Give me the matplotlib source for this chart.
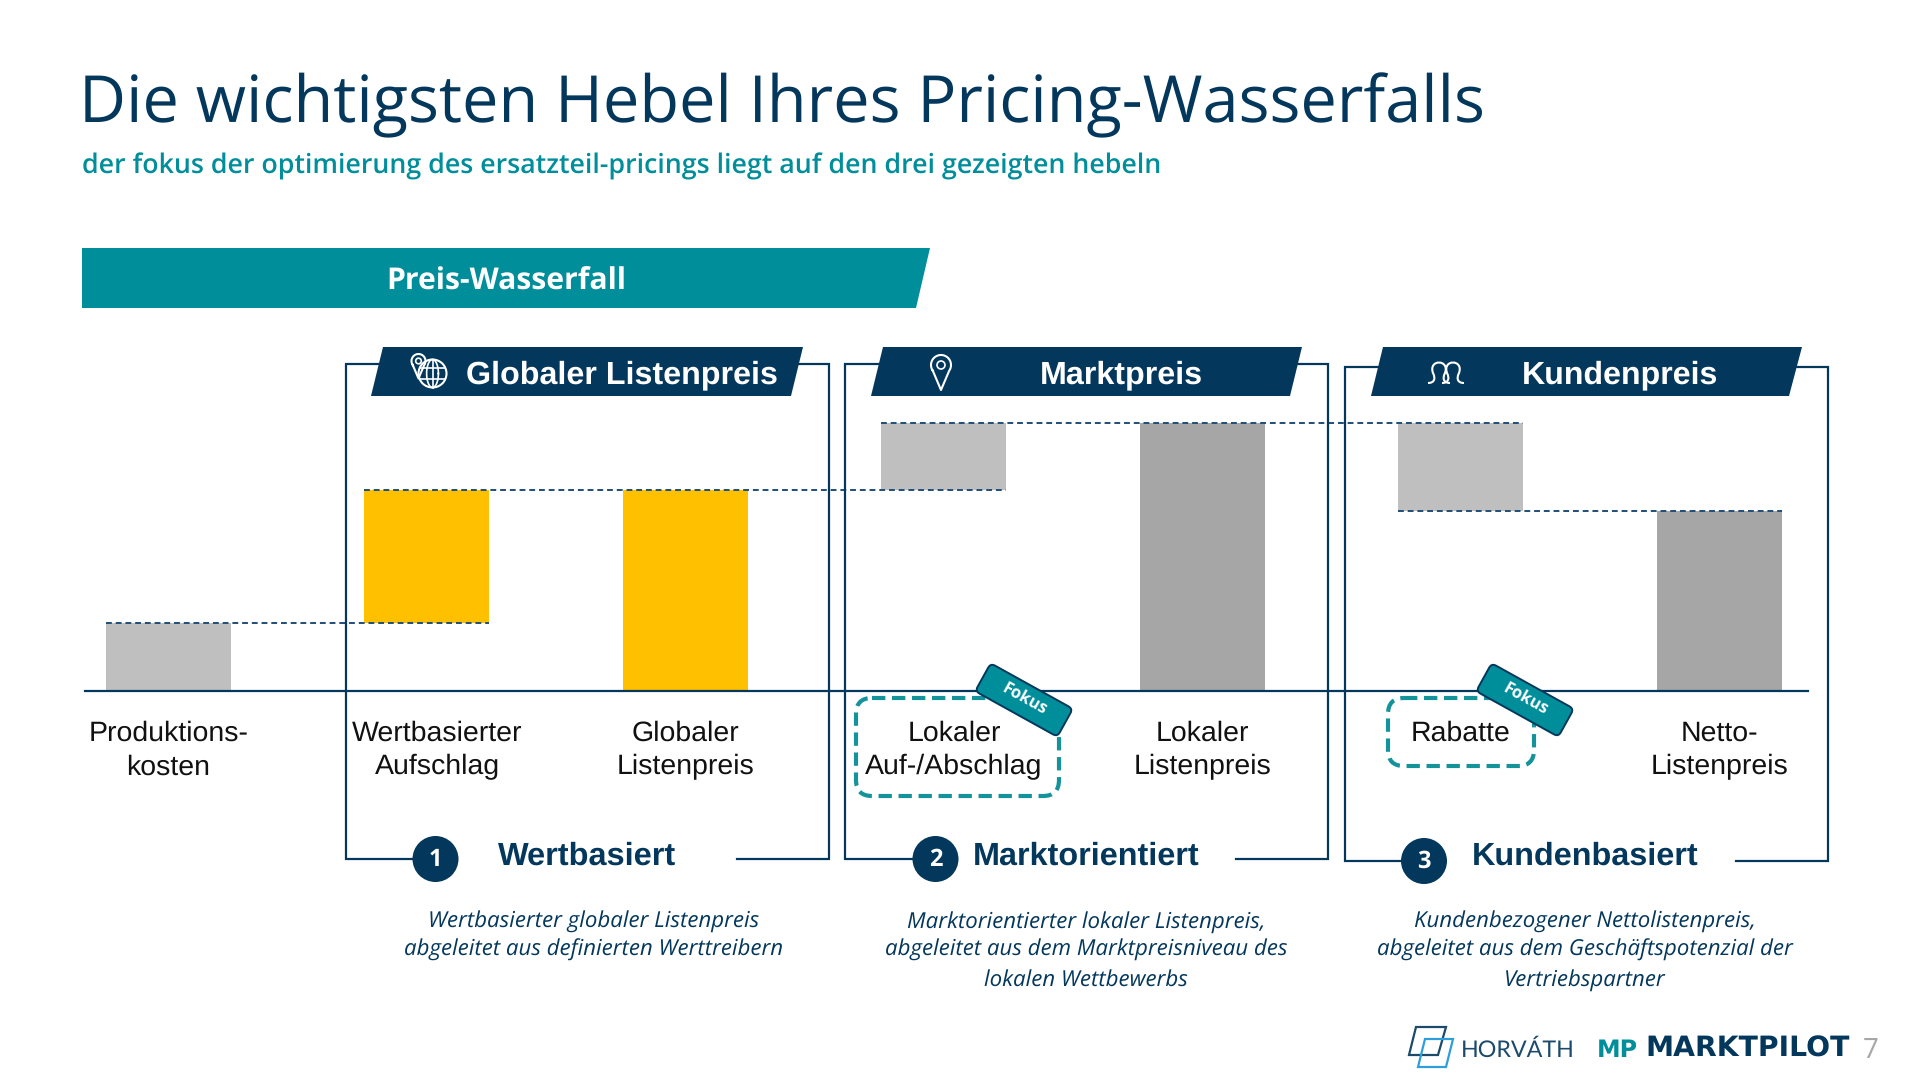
import matplotlib
matplotlib.use("Agg")
import matplotlib.pyplot as plt
from matplotlib.patches import Polygon, Circle, FancyBboxPatch, PathPatch
from matplotlib.path import Path
from matplotlib.transforms import Affine2D
import numpy as np

plt.rcParams["text.hinting"] = "no_hinting"

# ---------- data ----------
categories = ["Produktions-\nkosten", "Wertbasierter\nAufschlag", "Globaler\nListenpreis",
              "Lokaler\nAuf-/Abschlag", "Lokaler\nListenpreis", "Rabatte", "Netto-\nListenpreis"]
bar_bottoms = [0, 34, 0, 100.5, 0, 90, 0]
bar_heights = [34, 66.5, 100.5, 33.5, 134, 44, 90]
bar_colors = ["#BFBFBF", "#FFC000", "#FFC000", "#BFBFBF", "#A6A6A6", "#BFBFBF", "#A6A6A6"]
label_offsets = [0, 0.04, 0, 0.04, 0, 0, 0]
# connector: level, first bar index, last bar index
connector_levels = [34, 100.5, 134, 90]
connector_from = [0, 1, 3, 5]
connector_to = [1, 3, 5, 6]

title = "Die wichtigsten Hebel Ihres Pricing-Wasserfalls"
subtitle = "der fokus der optimierung des ersatzteil-pricings liegt auf den drei gezeigten hebeln"
banner = "Preis-Wasserfall"
ribbons = ["Globaler Listenpreis", "Marktpreis", "Kundenpreis"]
headings = ["Wertbasiert", "Marktorientiert", "Kundenbasiert"]
numbers = ["1", "2", "3"]
descriptions = [
    ["Wertbasierter globaler Listenpreis", "abgeleitet aus definierten Werttreibern"],
    ["Marktorientierter lokaler Listenpreis,", "abgeleitet aus dem Marktpreisniveau des", "lokalen Wettbewerbs"],
    ["Kundenbezogener Nettolistenpreis,", "abgeleitet aus dem Geschäftspotenzial der", "Vertriebspartner"],
]

NAVY = "#03375C"
TEAL = "#008E9B"
W, H = 1920, 1078

fig = plt.figure(figsize=(W / 100, H / 100), dpi=100, facecolor="white")
renderer = fig.canvas.get_renderer()

# ---------- waterfall axes ----------
base_px, top_px = 691, 341
left_px, right_px = 85, 1808
c0_px, step_px = 168.4, 258.45
ax = fig.add_axes([left_px / W, 1 - base_px / H, (right_px - left_px) / W, (base_px - top_px) / H])
ax.set_facecolor("none")
x = np.arange(len(categories))
bw = 0.483
ax.bar(x, bar_heights, bottom=bar_bottoms, width=bw, color=bar_colors, zorder=2)
for lvl, a, b in zip(connector_levels, connector_from, connector_to):
    ax.plot([a - bw / 2, b + bw / 2], [lvl, lvl], color="#1F4E79", lw=1.4,
            dashes=(3, 2), zorder=3, clip_on=False)
ax.set_xlim((left_px - c0_px) / step_px, (right_px - c0_px) / step_px)
ax.set_ylim(0, 175)
ax.set_yticks([])
ax.set_xticks(x + np.array(label_offsets))
ax.set_xticklabels(categories, fontsize=20.5, family="Liberation Sans", color="#111111", linespacing=1.38)
ax.tick_params(axis="x", length=0, pad=21.2)
for s in ["top", "left", "right"]:
    ax.spines[s].set_visible(False)
ax.spines["bottom"].set_color(NAVY)
ax.spines["bottom"].set_linewidth(1.6)

# ---------- overlay in pixel coordinates ----------
ov = fig.add_axes([0, 0, 1, 1], zorder=5)
ov.set_xlim(0, W)
ov.set_ylim(H, 0)
ov.axis("off")
ov.patch.set_alpha(0)


def fit(txt, width):
    """Scale a text so that it is `width` pixels wide."""
    w = txt.get_window_extent(renderer).width
    txt.set_fontsize(txt.get_fontsize() * width / w)
    return txt


SEGOE = "Open Sans"
ARIAL = "Liberation Sans"

fit(ov.text(78.8, 122.8, title, family=SEGOE, color=NAVY, fontsize=50, va="baseline"), 1407)
fit(ov.text(82, 174, subtitle, family=SEGOE, color=TEAL, fontsize=20, weight="semibold", va="baseline"), 1076)

ov.add_patch(Polygon([(82, 248), (930, 248), (916, 308), (82, 308)], fc=TEAL, ec="none"))
fit(ov.text(506, 290, banner, family=SEGOE, color="white", fontsize=22, weight="bold",
            ha="center", va="baseline"), 240)

# frames: (left, right, top, bottom, gap start, gap end)
frames = [(346, 829, 364, 859, 413, 737),
          (845, 1328, 364, 859, 912, 1236),
          (1344.5, 1827.5, 367, 861, 1401, 1736)]
for l, r, t, b, g0, g1 in frames:
    ov.plot([g0, l, l, r, r, g1], [b, b, t, t, b, b], color=NAVY, lw=1.6, solid_joinstyle="miter")

# ribbons
rib_x = [(383, 803, 371, 791), (883, 1302, 871, 1290), (1383, 1802, 1371, 1789)]
rib_text_x = [621.5, 1121, 1620.5]
rib_text_w = [311, 163, 196]
for (a, b, c, d), name, tx, tw in zip(rib_x, ribbons, rib_text_x, rib_text_w):
    ov.add_patch(Polygon([(a, 347), (b, 347), (d, 396), (c, 396)], fc=NAVY, ec="none", zorder=3))
    fit(ov.text(tx, 383, name, family=ARIAL, weight="bold", color="white", fontsize=22,
                ha="center", va="baseline", zorder=4), tw)


def pin(cx, cy, s):
    t = np.linspace(np.radians(-215), np.radians(35), 40)
    px = cx + s * np.cos(t)
    py = cy + s * np.sin(t)
    ov.plot(list(px) + [cx, px[0]], list(py) + [cy + 2.5 * s, py[0]], color="white", lw=1.5, zorder=5)
    ov.add_patch(Circle((cx, cy), s * 0.4, fc="none", ec="white", lw=1.2, zorder=5))


def globe(cx, cy, r):
    kw = dict(fc="none", ec="white", lw=1.5, zorder=5)
    ov.add_patch(Circle((cx, cy), r, **kw))
    t = np.linspace(0, 2 * np.pi, 60)
    ov.plot(cx + r * 0.42 * np.cos(t), cy + r * np.sin(t), color="white", lw=1.2, zorder=5)
    ov.plot([cx, cx], [cy - r, cy + r], color="white", lw=1.2, zorder=5)
    for dy in (-0.42, 0.42):
        hw = r * np.sqrt(1 - dy ** 2)
        ov.plot([cx - hw, cx + hw], [cy + dy * r] * 2, color="white", lw=1.2, zorder=5)


def person(cx, cy, s):
    verts = [(-11, 11), (-5, 11), (-3, 7), (-6, 1), (-11, -13), (11, -13), (6, 1), (3, 7), (5, 11), (11, 11)]
    verts = [(cx + vx * s, cy + vy * s) for vx, vy in verts]
    codes = [Path.MOVETO] + [Path.CURVE4] * 9
    ov.add_patch(PathPatch(Path(verts, codes), fc="none", ec="white", lw=1.5, zorder=5))


pin(418.5, 361, 7)
globe(432.5, 373.5, 14)
pin(941, 365, 10)
person(1439, 372, 1.0)
person(1453, 372, 1.0)

# numbered circles and headings
circ = [(435.5, 859), (935.5, 859), (1424, 861)]
head_x = [587, 1086, 1585.5]
head_w = [178, 226, 226]
for (cx, cy), n, hx, hw, name in zip(circ, numbers, head_x, head_w, headings):
    ov.add_patch(Circle((cx, cy), 23, fc=NAVY, ec="none", zorder=4))
    ov.text(cx, cy + 1, n, color="white", family=SEGOE, weight="bold", fontsize=17,
            ha="center", va="center", zorder=5)
    fit(ov.text(hx, 865, name, family=ARIAL, weight="bold", color=NAVY, fontsize=22,
                ha="center", va="baseline"), hw)

# descriptions
desc_x = [594, 1086, 1585]
desc_y = [928, 956, 985.5]
for dx, lines in zip(desc_x, descriptions):
    for y, line in zip(desc_y, lines):
        ov.text(dx, y, line, family=SEGOE, style="italic", color=NAVY, fontsize=16,
                ha="center", va="baseline")

# dashed focus boxes
for l, r, t, b in [(856, 1059, 698, 796), (1388, 1534, 698, 766)]:
    ov.add_patch(FancyBboxPatch((l + 16, t + 16), r - l - 32, b - t - 32,
                                boxstyle="round,pad=16,rounding_size=16", fc="none",
                                ec="#14939B", lw=3, linestyle=(0, (3.2, 1.6)), zorder=6))

# Fokus tags
for cx, cy in [(1024, 700), (1525, 700)]:
    tr = Affine2D().rotate_deg_around(cx, cy, 29) + ov.transData
    ov.add_patch(FancyBboxPatch((cx - 42, cy - 11), 84, 22,
                                boxstyle="round,pad=5,rounding_size=5", fc=TEAL, ec=NAVY,
                                lw=1.4, transform=tr, zorder=7))
    ov.text(cx, cy, "Fokus", color="white", family=SEGOE, weight="bold", fontsize=12,
            rotation=-29, rotation_mode="anchor", ha="center", va="center", zorder=8)

# footer logos
ov.add_patch(Polygon([(1416, 1027), (1446, 1027), (1438, 1055), (1409, 1055)], fc="none", ec="#1B4A6B", lw=1.6))
ov.add_patch(Polygon([(1425, 1039), (1453, 1039), (1446, 1067), (1418, 1067)], fc="none", ec="#2E9FD8", lw=1.6))
fit(ov.text(1461, 1057, "HORVÁTH", family="Lato", color="#1B4A6B", fontsize=18, va="baseline"), 114)
fit(ov.text(1597, 1057, "MP", family="DejaVu Sans", weight="bold", color=TEAL, fontsize=18, va="baseline"), 41)
fit(ov.text(1645, 1057, "MARKTPILOT", family="DejaVu Sans", weight="bold", color=NAVY, fontsize=18, va="baseline"), 204)
ov.text(1863, 1058, "7", family=SEGOE, color="#A6A6A6", fontsize=20, va="baseline")

fig.savefig("out.png", dpi=100)
